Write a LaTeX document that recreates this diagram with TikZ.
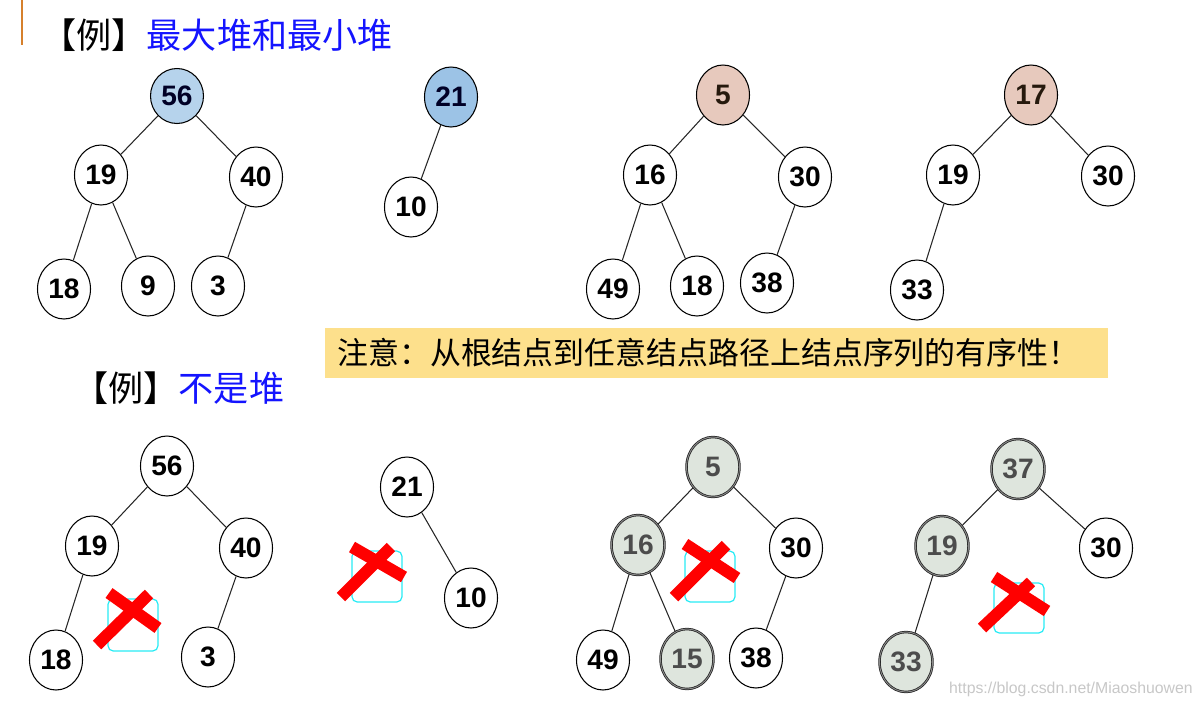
\documentclass[tikz,border=0pt]{standalone}
\usepackage{fontspec}
\newfontfamily\numfont{Liberation Sans}
\newfontfamily\cjk{Noto Sans CJK SC}
\usetikzlibrary{shapes.geometric}
\definecolor{rootblue}{RGB}{182,211,236}
\definecolor{rootblueB}{RGB}{156,195,230}
\definecolor{rootpink}{RGB}{231,201,189}
\definecolor{shadegreen}{RGB}{222,229,221}
\definecolor{titleblue}{RGB}{20,20,255}
\definecolor{noteyellow}{RGB}{253,224,140}
\definecolor{barorange}{RGB}{214,128,44}
\definecolor{xcyan}{RGB}{40,235,245}
\tikzset{
  hn/.style={ellipse, draw=black, line width=0.6pt, fill=white, inner sep=0pt,
    minimum width=1.06cm, minimum height=1.2cm,
    font=\numfont\bfseries\fontsize{16}{16}\selectfont},
  hblue/.style={hn, fill=rootblue, text=black!85!blue},
  hblueB/.style={hn, fill=rootblueB, text=black!85!blue},
  hpink/.style={hn, fill=rootpink, text=black!80!brown},
  hshade/.style={hn, fill=shadegreen, text=black!70, draw=black!85,
    line width=0.45pt, double=black!45, double distance=0.5pt},
  conn/.style={draw=black!85, line width=0.6pt},
  xbox/.style={draw=xcyan, line width=0.7pt, rounded corners=3pt},
  xmark/.style={draw=red, line width=2.4mm},
  title/.style={anchor=west, inner sep=0pt, font=\cjk\fontsize{20}{20}\selectfont}
}
\begin{document}
\begin{tikzpicture}[x=0.02cm,y=-0.02cm]
\useasboundingbox (0,0) rectangle (1200,707);
% orange bar
\draw[barorange, line width=1.2pt] (22,0) -- (22,45);
% titles
\node[title] (t1) at (41,35) {【例】\textcolor{titleblue}{最大堆和最小堆}};
\node[title] (t2) at (73,388) {【例】\textcolor{titleblue}{不是堆}};
% note
\node[fill=noteyellow, anchor=west, inner xsep=0.24cm, inner ysep=0pt,
  minimum height=1.0cm, text width=15.18cm, align=left,
  font=\cjk\fontsize{17.6}{18}\selectfont] (note) at (325,353)
  {注意：从根结点到任意结点路径上结点序列的有序性！};

% ---------- top tree 1 ----------
\node[hblue, minimum height=1.1cm] (a56) at (177,96) {56};
\node[hn] (a19) at (101,175) {19};
\node[hn] (a40) at (256,177) {40};
\node[hn] (a18) at (64,289) {18};
\node[hn] (a9) at (148,286) {9};
\node[hn] (a3) at (218,286) {3};
\draw[conn] (a56) -- (a19);
\draw[conn] (a56) -- (a40);
\draw[conn] (a19) -- (a18);
\draw[conn] (a19) -- (a9);
\draw[conn] (a40) -- (a3);

% ---------- top tree 2 ----------
\node[hblueB] (b21) at (451,97) {21};
\node[hn] (b10) at (411,207) {10};
\draw[conn] (b21) -- (b10);

% ---------- top tree 3 ----------
\node[hpink] (c5) at (723,95) {5};
\node[hn] (c16) at (650,175) {16};
\node[hn] (c30) at (805,177) {30};
\node[hn] (c49) at (613,289) {49};
\node[hn] (c18) at (697,286) {18};
\node[hn] (c38) at (767,283) {38};
\draw[conn] (c5) -- (c16);
\draw[conn] (c5) -- (c30);
\draw[conn] (c16) -- (c49);
\draw[conn] (c16) -- (c18);
\draw[conn] (c30) -- (c38);

% ---------- top tree 4 ----------
\node[hpink] (d17) at (1031,95) {17};
\node[hn] (d19) at (953,175) {19};
\node[hn] (d30) at (1108,176) {30};
\node[hn] (d33) at (917,290) {33};
\draw[conn] (d17) -- (d19);
\draw[conn] (d17) -- (d30);
\draw[conn] (d19) -- (d33);

% ---------- bottom tree 5 ----------
\node[hn] (e56) at (167,466) {56};
\node[hn] (e19) at (92,546) {19};
\node[hn] (e40) at (246,548) {40};
\node[hn] (e18) at (56,660) {18};
\node[hn] (e3) at (208,657) {3};
\draw[conn] (e56) -- (e19);
\draw[conn] (e56) -- (e40);
\draw[conn] (e19) -- (e18);
\draw[conn] (e40) -- (e3);
\draw[xbox] (108,599) rectangle (158,651);
\draw[xmark] (109,593) -- (158,628);
\draw[xmark] (149,594) -- (97,645);

% ---------- bottom tree 6 ----------
\node[hn] (f21) at (407,487) {21};
\node[hn] (f10) at (471,598) {10};
\draw[conn] (f21) -- (f10);
\draw[xbox] (352,551) rectangle (402,602);
\draw[xmark] (352,547) -- (404,577);
\draw[xmark] (391,547) -- (341,597);

% ---------- bottom tree 7 ----------
\node[hshade] (g5) at (713,467) {5};
\node[hshade] (g16) at (638,545) {16};
\node[hn] (g30) at (796,548) {30};
\node[hn] (g49) at (603,660) {49};
\node[hshade] (g15) at (687,659) {15};
\node[hn] (g38) at (756,658) {38};
\draw[conn] (g5) -- (g16);
\draw[conn] (g5) -- (g30);
\draw[conn] (g16) -- (g49);
\draw[conn] (g16) -- (g15);
\draw[conn] (g30) -- (g38);
\draw[xbox] (685,551) rectangle (735,602);
\draw[xmark] (685,544) -- (737,578);
\draw[xmark] (726,545) -- (674,597);

% ---------- bottom tree 8 ----------
\node[hshade] (h37) at (1018,469) {37};
\node[hshade] (h19) at (942,546) {19};
\node[hn] (h30) at (1106,548) {30};
\node[hshade] (h33) at (906,662) {33};
\draw[conn] (h37) -- (h19);
\draw[conn] (h37) -- (h30);
\draw[conn] (h19) -- (h33);
\draw[xbox] (994,583) rectangle (1044,633);
\draw[xmark] (994,577) -- (1047,611);
\draw[xmark] (1031,582) -- (982,628);

% watermark
\node[anchor=east, inner sep=0pt, text=black!22,
  font=\numfont\fontsize{9}{9}\selectfont] (wm) at (1193,689)
  {https://blog.csdn.net/Miaoshuowen};
\end{tikzpicture}
\end{document}
